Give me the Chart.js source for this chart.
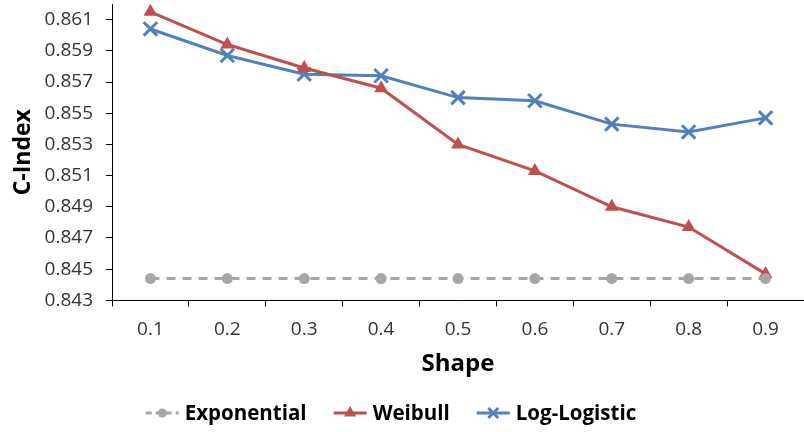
<!DOCTYPE html>
<html lang="en">
<head>
    <meta charset="UTF-8">
    <title>C-Index by Shape</title>
    <script src="https://cdn.jsdelivr.net/npm/chart.js@4.4.1/dist/chart.umd.min.js"></script>
    <style>
        html, body { margin: 0; padding: 0; background: #fff; }
        .chart-container { width: 804px; height: 432px; }
    </style>
</head>
<body>
    <div class="chart-container">
        <canvas id="cindexChart"></canvas>
    </div>

    <script>
        // Data
        const shapes = ['0.1', '0.2', '0.3', '0.4', '0.5', '0.6', '0.7', '0.8', '0.9'];
        const exponential = [0.8444, 0.8444, 0.8444, 0.8444, 0.8444, 0.8444, 0.8444, 0.8444, 0.8444];
        const weibull = [0.8615, 0.8594, 0.8579, 0.8566, 0.8530, 0.8513, 0.8490, 0.8477, 0.8447];
        const logLogistic = [0.8604, 0.8587, 0.8575, 0.8574, 0.8560, 0.8558, 0.8543, 0.8538, 0.8547];
        const yTicks = [0.843, 0.845, 0.847, 0.849, 0.851, 0.853, 0.855, 0.857, 0.859, 0.861];

        const GRAY = '#A6A6A6';
        const RED = '#C0504D';
        const BLUE = '#4F81BD';
        const FONT = "'Open Sans', 'DejaVu Sans', sans-serif";

        // Legend drawn as "line + marker  label", like the spreadsheet original
        const lineLegend = {
            id: 'lineLegend',
            afterDraw(chart, args, opts) {
                const c = chart.ctx;
                c.save();
                c.font = 'bold ' + opts.fontSize + 'px ' + FONT;
                const items = chart.data.datasets.map(ds => ({ ds: ds, w: c.measureText(ds.label).width }));
                const total = items.reduce((s, it) => s + opts.iconWidth + opts.textGap + it.w, 0)
                    + opts.spacing * (items.length - 1);
                let x = opts.centerX - total / 2;
                const y = opts.y;
                items.forEach(it => {
                    const ds = it.ds;
                    c.strokeStyle = ds.borderColor;
                    c.fillStyle = ds.backgroundColor;
                    c.lineWidth = 3;
                    c.setLineDash(ds.borderDash ? [6, 4] : []);
                    c.beginPath();
                    c.moveTo(x, y);
                    c.lineTo(x + opts.iconWidth, y);
                    c.stroke();
                    c.setLineDash([]);
                    Chart.helpers.drawPoint(c, {
                        pointStyle: ds.pointStyle,
                        rotation: 0,
                        radius: ds.legendRadius,
                        borderWidth: ds.pointBorderWidth
                    }, x + opts.iconWidth / 2, y);
                    x += opts.iconWidth + opts.textGap;
                    c.fillStyle = '#000';
                    c.textBaseline = 'middle';
                    c.textAlign = 'left';
                    c.fillText(ds.label, x, y + 1);
                    x += it.w + opts.spacing;
                });
                c.restore();
            }
        };

        const ctx = document.getElementById('cindexChart').getContext('2d');
        const chart = new Chart(ctx, {
            type: 'line',
            data: {
                labels: shapes,
                datasets: [
                    {
                        label: 'Exponential',
                        data: exponential,
                        borderColor: GRAY,
                        backgroundColor: GRAY,
                        borderWidth: 3,
                        borderDash: [9, 7],
                        pointStyle: 'circle',
                        pointRadius: 5.5,
                        pointBorderWidth: 0,
                        legendRadius: 4.5
                    },
                    {
                        label: 'Weibull',
                        data: weibull,
                        borderColor: RED,
                        backgroundColor: RED,
                        borderWidth: 3,
                        pointStyle: 'triangle',
                        pointRadius: 8,
                        pointBorderWidth: 0,
                        legendRadius: 7
                    },
                    {
                        label: 'Log-Logistic',
                        data: logLogistic,
                        borderColor: BLUE,
                        backgroundColor: BLUE,
                        borderWidth: 3,
                        pointStyle: 'crossRot',
                        pointRadius: 9.5,
                        pointBorderWidth: 3,
                        legendRadius: 7
                    }
                ]
            },
            options: {
                responsive: true,
                maintainAspectRatio: false,
                animation: false,
                layout: { autoPadding: false, padding: { left: 2, right: 0, top: 4, bottom: 49 } },
                scales: {
                    x: {
                        offset: true,
                        grid: {
                            offset: true,
                            drawOnChartArea: false,
                            drawTicks: true,
                            tickLength: 6,
                            color: '#000'
                        },
                        border: { color: '#000', width: 1 },
                        ticks: {
                            color: '#333',
                            font: { family: FONT, size: 19 },
                            padding: 12
                        },
                        title: {
                            display: true,
                            text: 'Shape',
                            color: '#000',
                            font: { family: FONT, size: 24, weight: 'bold' },
                            padding: { top: -3, bottom: 4 }
                        }
                    },
                    y: {
                        min: 0.843,
                        max: 0.862,
                        afterBuildTicks: function(scale) {
                            scale.ticks = yTicks.map(v => ({ value: v }));
                        },
                        afterFit: function(scale) {
                            scale.paddingTop = 0;
                            scale.paddingBottom = 0;
                            scale.width = 110;
                        },
                        grid: {
                            drawOnChartArea: false,
                            drawTicks: true,
                            tickLength: 6,
                            color: '#000'
                        },
                        border: { color: '#000', width: 1 },
                        ticks: {
                            color: '#333',
                            font: { family: FONT, size: 19 },
                            padding: 13,
                            callback: function(value) { return Number(value).toFixed(3); }
                        },
                        title: {
                            display: true,
                            text: 'C-Index',
                            color: '#000',
                            font: { family: FONT, size: 23, weight: 'bold' },
                            padding: { top: 8, bottom: 8 }
                        }
                    }
                },
                plugins: {
                    legend: { display: false },
                    tooltip: { enabled: false },
                    lineLegend: {
                        centerX: 391,
                        y: 413,
                        fontSize: 20.5,
                        iconWidth: 33,
                        textGap: 6,
                        spacing: 27
                    }
                }
            },
            plugins: [lineLegend]
        });
    </script>
</body>
</html>
